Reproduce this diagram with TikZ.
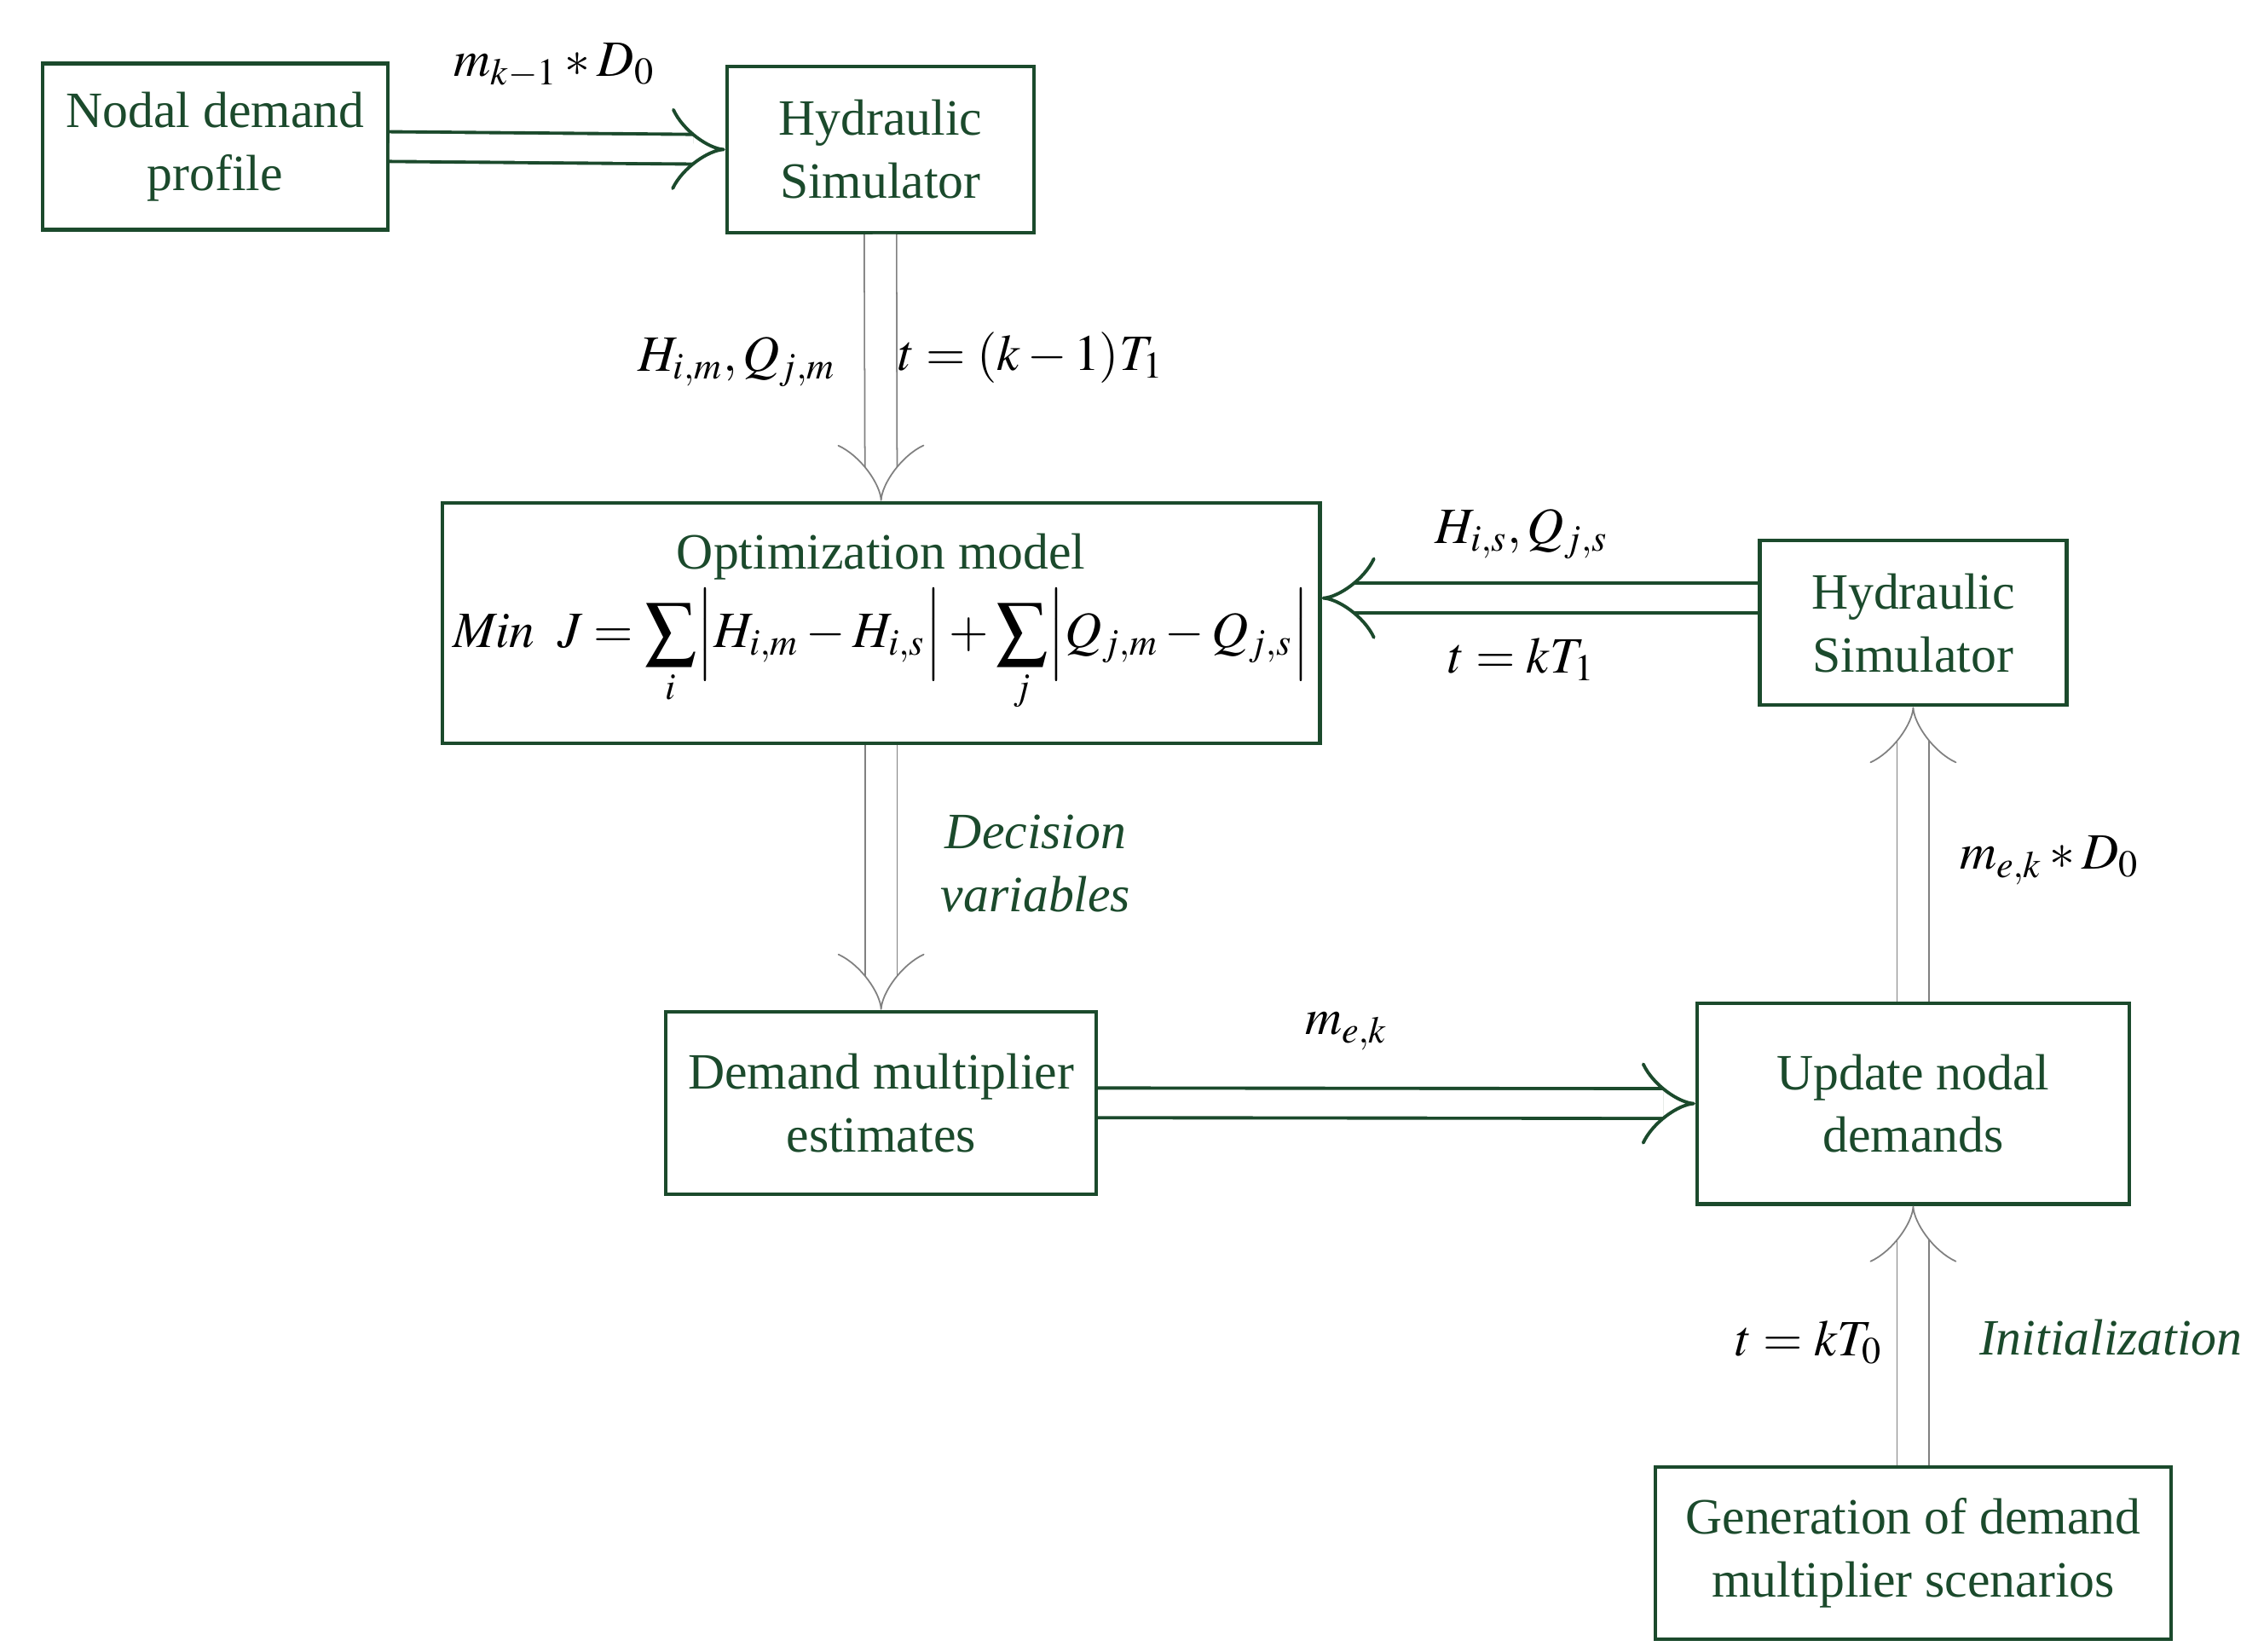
\documentclass[tikz,border=0pt]{standalone}
\usepackage{mathptmx}
\usepackage{fontspec}
\setmainfont{Liberation Serif}
\usetikzlibrary{arrows.meta}
\definecolor{boxgreen}{HTML}{1B4A2C}
\begin{document}
\begin{tikzpicture}[x=0.017113cm, y=-0.017113cm,
    box/.style={draw=boxgreen, line width=1.2pt, align=center, text=boxgreen,
      font=\fontsize{17}{21}\selectfont, inner sep=0pt},
    lbl/.style={font=\fontsize{17}{21}\selectfont},
    flow/.style={double=white, draw=boxgreen, line width=1.1pt, double distance=0.31cm,
      -{Implies[length=0.22cm]}},
    feed/.style={double=white, draw=gray, line width=0.5pt, double distance=0.36cm,
      -{Implies[length=0.2cm]}}]
    \useasboundingbox (0,0) rectangle (1552,1132);
    \node[box, minimum width=4.05cm, minimum height=1.95cm] (ndp) at (147.5,100.5) {Nodal demand\\profile};
    \node[box, minimum width=3.6cm, minimum height=1.95cm] (hs1) at (603.5,102.5) {Hydraulic\\Simulator};
    \node[box, minimum width=10.3cm, minimum height=2.82cm] (opt) at (604,427)
      {Optimization model\\[2pt]
       \textcolor{black}{$\displaystyle \mathit{Min}\;\; J=\sum_{i}\Bigl|H_{i,m}-H_{i,s}\Bigr|+\sum_{j}\Bigl|Q_{j,m}-Q_{j,s}\Bigr|$}};
    \node[box, minimum width=3.6cm, minimum height=1.93cm] (hs2) at (1311.5,427) {Hydraulic\\Simulator};
    \node[box, minimum width=5.05cm, minimum height=2.14cm] (dme) at (604,756) {Demand multiplier\\estimates};
    \node[box, minimum width=5.07cm, minimum height=2.36cm] (und) at (1311.5,756.5) {Update nodal\\demands};
    \node[box, minimum width=6.05cm, minimum height=2.02cm] (gen) at (1311.5,1064.5) {Generation of demand\\multiplier scenarios};

    \draw[flow] (ndp.east) -- (hs1.west);
    \draw[feed] (hs1.south) -- (opt.north);
    \draw[flow] (hs2.west |- 0,410) -- (opt.east |- 0,410);
    \draw[feed] (opt.south) -- (dme.north);
    \draw[flow] (dme.east) -- (und.west);
    \draw[feed] (und.north) -- (hs2.south);
    \draw[feed] (gen.north) -- (und.south);

    \node[lbl] (l1) at (380,45) {$m_{k-1}*D_0$};
    \node[lbl] (l2) at (505,248) {$H_{i,m},Q_{j,m}$};
    \node[lbl] (l3) at (707,245) {$t=(k-1)T_1$};
    \node[lbl] (l4) at (1043,366) {$H_{i,s},Q_{j,s}$};
    \node[lbl] (l5) at (1043,452) {$t=kT_1$};
    \node[lbl, text=boxgreen, align=center, font=\fontsize{17}{21}\selectfont\itshape] (l6) at (710,592) {Decision\\variables};
    \node[lbl] (l7) at (923,707) {$m_{e,k}$};
    \node[lbl] (l8) at (1405,590) {$m_{e,k}*D_0$};
    \node[lbl] (l9) at (1240,920) {$t=kT_0$};
    \node[lbl, text=boxgreen, font=\fontsize{17}{21}\selectfont\itshape] (l10) at (1447,917) {Initialization};
\end{tikzpicture}
\end{document}
